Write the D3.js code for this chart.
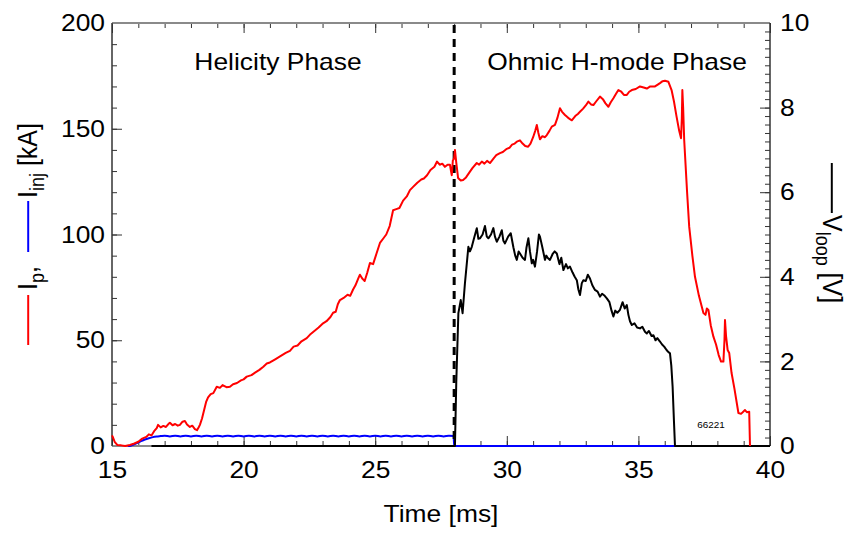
<!DOCTYPE html>
<html><head><meta charset="utf-8">
<script src="https://cdn.jsdelivr.net/npm/d3@7"></script>
<style>
body{margin:0;background:#fff}
svg{display:block}
text{font-family:"Liberation Sans",Arial,sans-serif;fill:#000}
</style>
</head><body>
<svg id="chart" width="856" height="534"></svg>
<script>
// ---------- data ----------
const xMajorTicks = [15, 20, 25, 30, 35, 40];
const leftMajorTicks = [0, 50, 100, 150, 200];
const rightMajorTicks = [0, 2, 4, 6, 8, 10];
const phaseLabels = ["Helicity Phase", "Ohmic H-mode Phase"];
const phaseBoundary = 28;
const shotNumber = "66221";

// Plasma current I_p [kA] vs time [ms]
const ipSeries = [
[15.0,5],[15.04,4],[15.1,2],[15.2,0.5],[15.35,0.3],[15.5,0],[15.68,0.5],[15.85,1.2],[16.0,2],[16.15,3.5],
[16.3,4.3],[16.4,5.5],[16.5,5],[16.6,7],[16.7,8.5],[16.75,10],[16.85,8.8],[16.95,9.5],[17.05,9],[17.15,10.5],
[17.2,11],[17.3,9.8],[17.4,10.4],[17.5,9.6],[17.58,10],[17.68,11.5],[17.77,11.8],[17.85,10.2],[17.96,9],[18.05,9.6],
[18.15,8],[18.23,7.5],[18.3,9],[18.34,10],[18.42,13],[18.5,17],[18.58,21],[18.65,23],[18.75,24.5],[18.85,25],
[18.98,28],[19.1,27.5],[19.2,28.8],[19.35,27.8],[19.48,28],[19.6,29.2],[19.75,29.8],[19.9,31],[20.0,31.5],[20.12,32.8],
[20.3,33.5],[20.45,34.8],[20.6,36],[20.75,37.5],[20.88,39],[21.0,39.5],[21.2,41],[21.4,42.5],[21.6,44],[21.76,45],
[21.9,47],[22.05,47.5],[22.2,49.5],[22.4,51],[22.55,53],[22.7,54.5],[22.85,56],[23.02,58],[23.15,59],[23.3,61],
[23.4,63],[23.5,63.5],[23.58,67],[23.66,69],[23.8,70],[23.95,71.5],[24.05,71],[24.16,74],[24.25,76],[24.35,79],
[24.42,81],[24.52,79],[24.6,78],[24.7,82],[24.8,86.5],[24.92,86],[25.05,91],[25.18,96],[25.3,98],[25.42,100],
[25.55,104],[25.68,111.5],[25.8,112],[25.92,112.5],[26.06,116],[26.2,118],[26.32,121],[26.44,122.5],[26.6,124.5],[26.75,126],
[26.85,126.5],[26.97,128],[27.1,130.5],[27.25,132],[27.35,134.5],[27.45,133],[27.55,133.5],[27.65,132],[27.75,133],[27.84,133],
[27.88,130],[27.91,128],[27.95,135],[28.0,136],[28.03,140],[28.08,134],[28.15,126.7],[28.25,125.5],[28.34,125.8],[28.45,127],
[28.6,129.7],[28.7,131.5],[28.86,133.8],[28.95,133],[29.05,134.5],[29.15,133.5],[29.25,134.8],[29.36,133.8],[29.5,136],[29.6,137.5],
[29.74,138.5],[29.85,139],[30.0,140.5],[30.1,141],[30.2,142.5],[30.3,143],[30.38,143.9],[30.5,144.5],[30.6,143],[30.7,141.8],
[30.81,141.5],[30.9,143],[31.0,146],[31.08,149],[31.14,151.8],[31.2,148],[31.26,145],[31.35,146.5],[31.45,146],[31.52,147],
[31.62,149],[31.71,151],[31.83,151.8],[31.92,155],[32.02,159.7],[32.1,158],[32.21,156.5],[32.3,155.5],[32.4,154.5],[32.47,154],
[32.6,156],[32.7,157],[32.78,158],[32.9,159.5],[33.0,161],[33.1,162.8],[33.2,161.5],[33.29,161.2],[33.4,163],[33.54,165.2],
[33.65,164],[33.75,162],[33.86,160.4],[33.95,162.5],[34.05,164.4],[34.15,166.5],[34.24,168.3],[34.35,167.5],[34.45,166],[34.56,166],
[34.65,167.5],[34.75,168.3],[34.9,168.8],[35.06,170],[35.2,169.5],[35.32,169],[35.45,170],[35.63,170],[35.75,171],[35.82,171.6],
[35.92,172.5],[36.01,172.7],[36.14,172.2],[36.26,168.3],[36.35,163],[36.45,155.7],[36.55,149],[36.62,145.5],[36.65,155],[36.67,168.3],
[36.7,160],[36.74,144.7],[36.85,120],[36.93,103.7],[37.05,90],[37.15,80],[37.3,71],[37.47,62.9],[37.55,62],[37.6,65],
[37.66,64.3],[37.75,57],[37.85,51.7],[37.95,48],[38.05,43],[38.14,39.9],[38.23,39.9],[38.27,50],[38.29,59.6],[38.33,52],
[38.39,45.4],[38.45,44],[38.54,34.5],[38.65,27],[38.8,15.6],[38.9,15.2],[39.05,17],[39.12,16],[39.21,16.2],[39.24,0]
];

// Injector current I_inj [kA] vs time [ms]
const iinjSeries = [
[15.6,0],[15.68,0],[15.8,0.6],[15.95,1.4],[16.1,2.3],[16.25,3.1],[16.4,3.7],[16.55,4.2],[16.7,4.5],[16.85,4.7],
[17.0,4.9],[17.2,4.5],[17.4,4.9],[17.6,4.5],[17.8,4.9],[18.0,4.5],[18.2,4.9],[18.4,4.5],[18.6,4.9],[18.8,4.5],
[19.0,4.9],[19.2,4.5],[19.4,4.9],[19.6,4.5],[19.8,4.9],[20.0,4.5],[20.2,4.9],[20.4,4.5],[20.6,4.9],[20.8,4.5],
[21.0,4.9],[21.2,4.5],[21.4,4.9],[21.6,4.5],[21.8,4.9],[22.0,4.5],[22.2,4.9],[22.4,4.5],[22.6,4.9],[22.8,4.5],
[23.0,4.9],[23.2,4.5],[23.4,4.9],[23.6,4.5],[23.8,4.9],[24.0,4.5],[24.2,4.9],[24.4,4.5],[24.6,4.9],[24.8,4.5],
[25.0,4.9],[25.2,4.5],[25.4,4.9],[25.6,4.5],[25.8,4.9],[26.0,4.5],[26.2,4.9],[26.4,4.5],[26.6,4.9],[26.8,4.5],
[27.0,4.9],[27.2,4.5],[27.4,4.9],[27.6,4.5],[27.8,4.9],[27.98,4.7],[28.0,0],[36.45,0]
];

// Loop voltage V_loop [V] vs time [ms]
const vloopSeries = [
[16.5,0],[28.0,0],[28.03,0],[28.08,1.5],[28.16,3.14],[28.25,3.45],[28.32,3.14],[28.41,3.85],[28.54,4.71],[28.6,4.6],
[28.67,4.71],[28.75,4.9],[28.86,5.15],[28.92,4.9],[28.98,4.91],[29.08,5.0],[29.17,5.2],[29.24,4.95],[29.3,4.91],[29.4,5.0],
[29.49,5.15],[29.55,4.95],[29.62,4.83],[29.72,4.95],[29.81,5.1],[29.87,4.85],[29.93,4.79],[30.05,4.95],[30.15,5.03],[30.25,4.7],
[30.32,4.5],[30.38,4.4],[30.45,4.6],[30.5,4.55],[30.6,4.45],[30.69,4.4],[30.75,4.7],[30.82,4.91],[30.88,4.6],[30.95,4.32],
[31.0,4.4],[31.07,4.24],[31.15,4.6],[31.22,5.0],[31.26,4.95],[31.35,4.7],[31.45,4.4],[31.5,4.5],[31.55,4.45],[31.64,4.4],
[31.75,4.55],[31.82,4.6],[31.9,4.55],[32.0,4.3],[32.07,4.45],[32.15,4.16],[32.25,4.3],[32.32,4.2],[32.4,4.24],[32.5,4.1],
[32.58,4.0],[32.66,3.92],[32.72,3.7],[32.78,3.57],[32.85,3.85],[32.91,3.92],[33.0,3.9],[33.08,4.05],[33.16,3.96],[33.25,3.8],
[33.35,3.69],[33.45,3.65],[33.54,3.53],[33.62,3.6],[33.72,3.55],[33.8,3.49],[33.9,3.4],[33.98,3.2],[34.05,3.06],[34.12,3.2],
[34.2,3.15],[34.3,3.22],[34.4,3.4],[34.48,3.25],[34.56,3.33],[34.62,3.1],[34.68,2.95],[34.75,2.86],[34.85,2.9],[34.95,2.8],
[35.06,2.78],[35.15,2.82],[35.25,2.7],[35.32,2.66],[35.4,2.72],[35.5,2.6],[35.57,2.62],[35.65,2.5],[35.72,2.55],[35.82,2.47],
[35.9,2.4],[35.98,2.35],[36.07,2.27],[36.14,2.22],[36.2,2.19],[36.25,1.9],[36.3,1.4],[36.35,0.6],[36.39,0],[40,0]
];

// ---------- layout ----------
const W = 856, H = 534;
const L = 112, R = 770, T = 23, B = 446;
const FS = 24, STRETCH = 1.1;

const svg = d3.select("#chart");
const x = d3.scaleLinear().domain([15, 40]).range([L, R]);
const yL = d3.scaleLinear().domain([0, 200]).range([B, T]);
const yR = d3.scaleLinear().domain([0, 10]).range([B, T]);

function stretch(sel, f = STRETCH) {
  sel.each(function () {
    const len = this.getComputedTextLength();
    this.setAttribute("textLength", len * f);
    this.setAttribute("lengthAdjust", "spacingAndGlyphs");
  });
}
function styleAxis(g, major) {
  g.select(".domain").remove();
  g.selectAll(".tick line").attr("stroke", "#333").attr("stroke-width", 1);
  g.selectAll(".tick text").attr("font-size", FS).attr("fill", "#000")
    .style("font-family", '"Liberation Sans", Arial, sans-serif');
}

// minor ticks
const xMinor = x.ticks(25), yLMinor = yL.ticks(20), yRMinor = d3.range(0, 51).map(i => i / 5);

svg.append("g").attr("transform", `translate(0,${B})`)
  .call(d3.axisBottom(x).tickValues(xMinor).tickSize(-5).tickFormat(""))
  .call(styleAxis);
svg.append("g").attr("transform", `translate(0,${T})`)
  .call(d3.axisTop(x).tickValues(xMinor).tickSize(-5).tickFormat(""))
  .call(styleAxis);
svg.append("g").attr("transform", `translate(0,${T})`)
  .call(d3.axisTop(x).tickValues(xMajorTicks).tickSize(-10).tickFormat(""))
  .call(styleAxis);
const gxb = svg.append("g").attr("transform", `translate(0,${B})`)
  .call(d3.axisBottom(x).tickValues(xMajorTicks).tickSize(-10).tickPadding(15).tickFormat(d3.format("d")))
  .call(styleAxis);

svg.append("g").attr("transform", `translate(${L},0)`)
  .call(d3.axisLeft(yL).tickValues(yLMinor).tickSize(-5).tickFormat(""))
  .call(styleAxis);
const gyl = svg.append("g").attr("transform", `translate(${L},0)`)
  .call(d3.axisLeft(yL).tickValues(leftMajorTicks).tickSize(-10).tickPadding(7).tickFormat(d3.format("d")))
  .call(styleAxis);

svg.append("g").attr("transform", `translate(${R},0)`)
  .call(d3.axisRight(yR).tickValues(yRMinor).tickSize(-5).tickFormat(""))
  .call(styleAxis);
const gyr = svg.append("g").attr("transform", `translate(${R},0)`)
  .call(d3.axisRight(yR).tickValues(rightMajorTicks).tickSize(-10).tickPadding(10).tickFormat(d3.format("d")))
  .call(styleAxis);

stretch(gxb.selectAll(".tick text"));
stretch(gyl.selectAll(".tick text"));
stretch(gyr.selectAll(".tick text"));

// frame
svg.append("line").attr("x1", L).attr("x2", R).attr("y1", T).attr("y2", T).attr("stroke", "#8a8a8a").attr("stroke-width", 2);
svg.append("line").attr("x1", L).attr("x2", R).attr("y1", B).attr("y2", B).attr("stroke", "#8a8a8a").attr("stroke-width", 2);
svg.append("line").attr("x1", L).attr("x2", L).attr("y1", T).attr("y2", B).attr("stroke", "#333").attr("stroke-width", 1.5);
svg.append("line").attr("x1", R).attr("x2", R).attr("y1", T).attr("y2", B).attr("stroke", "#333").attr("stroke-width", 1.5);

// curves
const lineL = d3.line().x(d => x(d[0])).y(d => yL(d[1]));
const lineR = d3.line().x(d => x(d[0])).y(d => yR(d[1]));

svg.append("path").datum(iinjSeries)
  .attr("d", lineL.curve(d3.curveMonotoneX)(iinjSeries))
  .attr("fill", "none").attr("stroke", "#0000ff").attr("stroke-width", 2);
svg.append("path").datum(vloopSeries)
  .attr("d", d3.line().x(d => x(d[0])).y(d => yR(d[1]))(vloopSeries))
  .attr("fill", "none").attr("stroke", "#000").attr("stroke-width", 2).attr("stroke-linejoin", "round");

// phase boundary
svg.append("line").attr("x1", x(phaseBoundary)).attr("x2", x(phaseBoundary))
  .attr("y1", T + 2).attr("y2", B)
  .attr("stroke", "#000").attr("stroke-width", 3).attr("stroke-dasharray", "8,6");

svg.append("path").datum(ipSeries)
  .attr("d", d3.line().x(d => x(d[0])).y(d => yL(d[1]))(ipSeries))
  .attr("fill", "none").attr("stroke", "#ff0000").attr("stroke-width", 2).attr("stroke-linejoin", "round");

// phase labels
const pl = svg.append("g");
pl.append("text").attr("x", 278).attr("y", 70).attr("text-anchor", "middle").attr("font-size", FS).text(phaseLabels[0]);
pl.append("text").attr("x", 617).attr("y", 70).attr("text-anchor", "middle").attr("font-size", FS).text(phaseLabels[1]);
stretch(pl.selectAll("text"));

// shot number
const sn = svg.append("text").attr("x", 711).attr("y", 428).attr("text-anchor", "middle").attr("font-size", 9).text(shotNumber);
stretch(sn);

// x-axis title
const xt = svg.append("text").attr("x", 441).attr("y", 522).attr("text-anchor", "middle").attr("font-size", FS).text("Time [ms]");
stretch(xt);

// left y title (rotated)
const lg = svg.append("g").attr("transform", `translate(37,345) scale(${STRETCH},1) rotate(-90)`);
lg.append("line").attr("x1", 0).attr("x2", 50).attr("y1", -8).attr("y2", -8).attr("stroke", "#ff0000").attr("stroke-width", 1.8);
const t1 = lg.append("text").attr("x", 55).attr("y", 0).attr("font-size", 25);
t1.append("tspan").text("I");
t1.append("tspan").attr("font-size", 18).attr("dy", 6).text("p");
t1.append("tspan").attr("dy", -6).text(",");
lg.append("line").attr("x1", 93).attr("x2", 144).attr("y1", -8).attr("y2", -8).attr("stroke", "#0000ff").attr("stroke-width", 1.8);
const t2 = lg.append("text").attr("x", 147).attr("y", 0).attr("font-size", 25);
t2.append("tspan").text("I");
t2.append("tspan").attr("font-size", 18).attr("dy", 6).text("inj");
t2.append("tspan").attr("dy", -6).text(" [kA]");

// right y title (rotated)
const rg = svg.append("g").attr("transform", `translate(823,163) scale(${STRETCH},1) rotate(90)`);
rg.append("line").attr("x1", 0).attr("x2", 50).attr("y1", -8).attr("y2", -8).attr("stroke", "#000").attr("stroke-width", 1.8);
const t3 = rg.append("text").attr("x", 52).attr("y", 0).attr("font-size", 25);
t3.append("tspan").text("V");
t3.append("tspan").attr("font-size", 18).attr("dy", 6).text("loop");
t3.append("tspan").attr("dy", -6).text(" [V]");
</script>
</body></html>
